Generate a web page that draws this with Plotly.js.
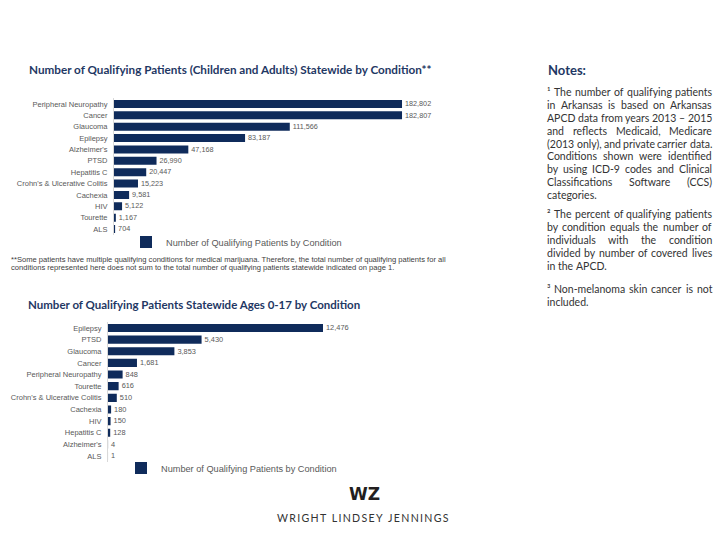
<!DOCTYPE html>
<html>
<head>
<meta charset="utf-8">
<script src="https://cdn.plot.ly/plotly-3.0.1.min.js"></script>
<style>
  html, body { margin: 0; padding: 0; background: #ffffff; }
  #chart { width: 720px; height: 540px; }
</style>
</head>
<body>
<div id="chart"></div>
<script>
// ---- Data: chart 1 (children and adults) ----
const allConditions = ["Peripheral Neuropathy", "Cancer", "Glaucoma", "Epilepsy", "Alzheimer's", "PTSD",
  "Hepatitis C", "Crohn's & Ulcerative Colitis", "Cachexia", "HIV", "Tourette", "ALS"];
const allPatients = [182802, 182807, 111566, 83187, 47168, 26990, 20447, 15223, 9581, 5122, 1167, 704];

// ---- Data: chart 2 (ages 0-17) ----
const youthConditions = ["Epilepsy", "PTSD", "Glaucoma", "Cancer", "Peripheral Neuropathy", "Tourette",
  "Crohn's & Ulcerative Colitis", "Cachexia", "HIV", "Hepatitis C", "Alzheimer's", "ALS"];
const youthPatients = [12476, 5430, 3853, 1681, 848, 616, 510, 180, 150, 128, 4, 1];

const seriesName = "Number of Qualifying Patients by Condition";
const title1 = "Number of Qualifying Patients (Children and Adults) Statewide by Condition**";
const title2 = "Number of Qualifying Patients Statewide Ages 0-17 by Condition";
const footnoteLines = [
  "**Some patients have multiple qualifying conditions for medical marijuana. Therefore, the total number of qualifying patients for all",
  "conditions represented here does not sum to the total number of qualifying patients statewide indicated on page 1."
];
const notesParagraphs = [
  ["¹ The number of qualifying patients", "in Arkansas is based on Arkansas", "APCD data from years 2013 – 2015",
   "and reflects Medicaid, Medicare", "(2013 only), and private carrier data.", "Conditions shown were identified",
   "by using ICD-9 codes and Clinical", "Classifications Software (CCS)", "categories."],
  ["² The percent of qualifying patients", "by condition equals the number of", "individuals with the condition",
   "divided by number of covered lives", "in the APCD."],
  ["³ Non-melanoma skin cancer is not", "included."]
];

const NAVY = "#0f2b5b";
const TITLE_NAVY = "#1f3864";
const GREY = "#595959";
const W = 720, H = 540;
const px = v => v / W;
const py = v => 1 - v / H;

const labelFont = { family: "Liberation Sans, Arial, sans-serif", size: 8.2, color: GREY };

const traces = [
  {
    type: "bar", orientation: "h", name: seriesName,
    x: allPatients, y: allConditions, xaxis: "x", yaxis: "y",
    marker: { color: NAVY },
    texttemplate: "%{x:,}", textposition: "outside", cliponaxis: false,
    textfont: labelFont, legend: "legend", hoverinfo: "skip"
  },
  {
    type: "bar", orientation: "h", name: seriesName,
    x: youthPatients, y: youthConditions, xaxis: "x2", yaxis: "y2",
    marker: { color: NAVY },
    texttemplate: "%{x:,}", textposition: "outside", cliponaxis: false,
    textfont: labelFont, legend: "legend2", hoverinfo: "skip"
  }
];

const tickFont = { family: "Liberation Sans, Arial, sans-serif", size: 7.5, color: GREY };

const annotations = [];
// Chart titles
annotations.push({ xref: "paper", yref: "paper", x: px(27), y: py(69), xanchor: "left", yanchor: "middle",
  text: "<b>" + title1 + "</b>", showarrow: false,
  font: { family: "Lato, sans-serif", size: 11.7, color: TITLE_NAVY } });
annotations.push({ xref: "paper", yref: "paper", x: px(26), y: py(304), xanchor: "left", yanchor: "middle",
  text: "<b>" + title2 + "</b>", showarrow: false,
  font: { family: "Lato, sans-serif", size: 11.5, color: TITLE_NAVY } });
// Footnote under chart 1
footnoteLines.forEach((t, i) => {
  annotations.push({ xref: "paper", yref: "paper", x: px(9), y: py(259 + i * 9), xanchor: "left", yanchor: "middle",
    text: t, showarrow: false, font: { family: "Liberation Sans, Arial, sans-serif", size: 7.6, color: "#404040" } });
});
// Notes heading
annotations.push({ xref: "paper", yref: "paper", x: px(546), y: py(70), xanchor: "left", yanchor: "middle",
  text: "<b>Notes:</b>", showarrow: false, font: { family: "Lato, sans-serif", size: 13, color: TITLE_NAVY } });

// Justified notes text: words placed along each line
const notesFont = { family: "Lato, sans-serif", size: 10.5, color: "#333333" };
const ctx = document.createElement("canvas").getContext("2d");
ctx.font = notesFont.size + "px Lato";
const noteX0 = 547, noteX1 = 712;
const paraStarts = [92, 214, 289];
const lineStep = 12.9;
notesParagraphs.forEach((para, pi) => {
  para.forEach((line, li) => {
    const y = paraStarts[pi] + li * lineStep;
    const isLast = li === para.length - 1;
    const words = line.split(" ");
    const widths = words.map(w => ctx.measureText(w).width);
    const spaceW = ctx.measureText(" ").width;
    let gap = spaceW;
    if (!isLast && words.length > 1) {
      const total = widths.reduce((a, b) => a + b, 0);
      gap = (noteX1 - noteX0 - total) / (words.length - 1);
    }
    let cx = noteX0;
    words.forEach((w, wi) => {
      annotations.push({ xref: "paper", yref: "paper", x: px(cx), y: py(y), xanchor: "left", yanchor: "middle",
        text: w, showarrow: false, font: notesFont, borderpad: 0, borderwidth: 0 });
      cx += widths[wi] + gap;
    });
  });
});

// Logo
annotations.push({ xref: "paper", yref: "paper", x: px(364), y: py(494), xanchor: "center", yanchor: "middle",
  text: "<b>WZ</b>", showarrow: false, font: { family: "DejaVu Sans, sans-serif", size: 17, color: "#231f20" } });
const firm = "WRIGHT LINDSEY JENNINGS".split("").join("\u2009");
annotations.push({ xref: "paper", yref: "paper", x: px(363), y: py(518), xanchor: "center", yanchor: "middle",
  text: firm, showarrow: false, font: { family: "Lato, sans-serif", size: 10.6, color: "#333333" } });

const layout = {
  width: W, height: H,
  margin: { l: 0, r: 0, t: 0, b: 0 },
  paper_bgcolor: "#ffffff", plot_bgcolor: "#ffffff",
  showlegend: true,
  bargap: 0.3,
  xaxis: { domain: [px(114), px(460)], range: [0, 219600], visible: false, fixedrange: true },
  yaxis: { domain: [py(234.7), py(98.3)], autorange: "reversed", anchor: "x",
    showline: true, linecolor: "#d9d9d9", linewidth: 1, ticks: "", showgrid: false,
    tickfont: tickFont, ticklabelstandoff: 4, automargin: false },
  xaxis2: { domain: [px(108), px(400)], range: [0, 16944], visible: false, anchor: "y2", fixedrange: true },
  yaxis2: { domain: [py(461.8), py(322.2)], autorange: "reversed", anchor: "x2",
    showline: true, linecolor: "#d9d9d9", linewidth: 1, ticks: "", showgrid: false,
    tickfont: tickFont, ticklabelstandoff: 4, automargin: false },
  legend: { x: px(126), y: py(242), xanchor: "left", yanchor: "middle", orientation: "h",
    font: { family: "Liberation Sans, Arial, sans-serif", size: 9.2, color: GREY }, bgcolor: "rgba(0,0,0,0)" },
  legend2: { x: px(121), y: py(468), xanchor: "left", yanchor: "middle", orientation: "h",
    font: { family: "Liberation Sans, Arial, sans-serif", size: 9.2, color: GREY }, bgcolor: "rgba(0,0,0,0)" },
  annotations: annotations,
  font: { family: "Liberation Sans, Arial, sans-serif" }
};

Plotly.newPlot("chart", traces, layout, { displayModeBar: false, staticPlot: true });
</script>
</body>
</html>
